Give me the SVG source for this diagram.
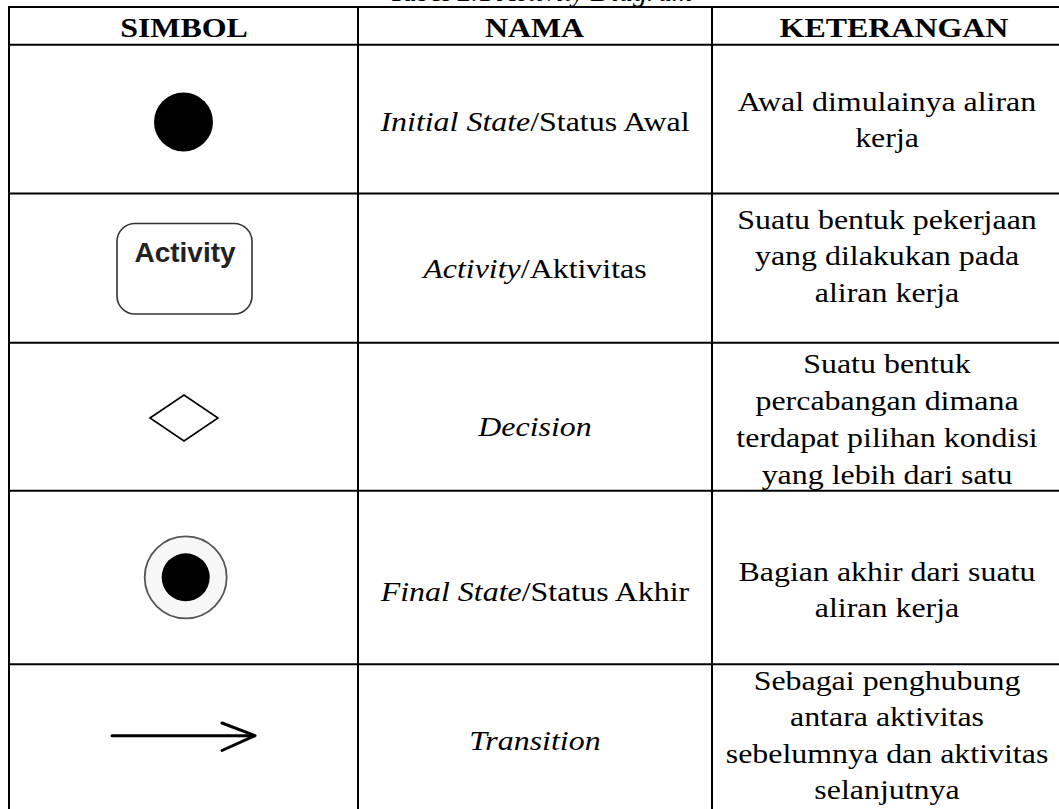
<svg xmlns="http://www.w3.org/2000/svg" width="1059" height="809" viewBox="0 0 1059 809">
<style>
.grid{stroke:#000;stroke-width:2;fill:none}
.t{font-family:"Liberation Serif","Times New Roman",serif;font-size:28px;fill:#000;text-anchor:middle}
.h{font-weight:bold}
.i{font-style:italic}
.sym{stroke:#000;fill:none}
</style>
<rect width="1059" height="809" fill="#fff"/>

<g id="title">
<text class="t" x="540" y="1">Tabel 2.1 <tspan class="i">Activity Diagram</tspan></text>
</g>

<g id="table-grid" class="grid">
<line x1="8" y1="7" x2="1059" y2="7"/>
<line x1="9" y1="7" x2="9" y2="809"/>
<line x1="358" y1="7" x2="358" y2="809"/>
<line x1="712" y1="7" x2="712" y2="809"/>
<line x1="8" y1="44.8" x2="1059" y2="44.8"/>
<line x1="8" y1="193.6" x2="1059" y2="193.6"/>
<line x1="8" y1="342.8" x2="1059" y2="342.8"/>
<line x1="8" y1="490.8" x2="1059" y2="490.8"/>
<line x1="8" y1="664.3" x2="1059" y2="664.3"/>
</g>

<g id="header" transform="scale(1.14 1)">
<text class="t h" x="161.4" y="36.7">SIMBOL</text>
<text class="t h" x="468.9" y="36.7">NAMA</text>
<text class="t h" x="784.2" y="36.7">KETERANGAN</text>
</g>

<g id="row-initial">
<circle cx="183.5" cy="122" r="29.5" fill="#000"/>
<g transform="scale(1.14 1)">
<text class="t" x="469.3" y="130.7"><tspan class="i">Initial State</tspan>/Status Awal</text>
<text class="t" x="778.1" y="111">Awal dimulainya aliran</text>
<text class="t" x="778.1" y="147">kerja</text>
</g>
</g>

<g id="row-activity">
<rect x="117" y="223.5" width="135" height="90.5" rx="18" ry="18" fill="#fff" stroke="#333" stroke-width="1.6"/>
<text x="185" y="261.5" font-family="Liberation Sans, Arial, sans-serif" font-weight="bold" font-size="28" fill="#222" text-anchor="middle">Activity</text>
<g transform="scale(1.14 1)">
<text class="t" x="469.3" y="278"><tspan class="i">Activity</tspan>/Aktivitas</text>
<text class="t" x="778.1" y="229">Suatu bentuk pekerjaan</text>
<text class="t" x="778.1" y="265.5">yang dilakukan pada</text>
<text class="t" x="778.1" y="302">aliran kerja</text>
</g>
</g>

<g id="row-decision">
<polygon class="sym" stroke-width="1.6" points="150,418 184,395 218,418 184,441"/>
<g transform="scale(1.14 1)">
<text class="t i" x="469.3" y="436">Decision</text>
<text class="t" x="778.1" y="373">Suatu bentuk</text>
<text class="t" x="778.1" y="410">percabangan dimana</text>
<text class="t" x="778.1" y="447">terdapat pilihan kondisi</text>
<text class="t" x="778.1" y="484">yang lebih dari satu</text>
</g>
</g>

<g id="row-final">
<circle cx="185.7" cy="577.3" r="41" fill="#f7f7f7" stroke="#555" stroke-width="1.8"/>
<circle cx="185.7" cy="577.3" r="24" fill="#000"/>
<g transform="scale(1.14 1)">
<text class="t" x="469.3" y="601"><tspan class="i">Final State</tspan>/Status Akhir</text>
<text class="t" x="778.1" y="581">Bagian akhir dari suatu</text>
<text class="t" x="778.1" y="617">aliran kerja</text>
</g>
</g>

<g id="row-transition">
<g class="sym" stroke-width="3" stroke-linecap="round" stroke-linejoin="round">
<line x1="112" y1="735.7" x2="254" y2="735.7"/>
<polyline points="222,723 255,735.7 222,750.5"/>
</g>
<g transform="scale(1.14 1)">
<text class="t i" x="469.3" y="750">Transition</text>
<text class="t" x="778.1" y="690">Sebagai penghubung</text>
<text class="t" x="778.1" y="726.5">antara aktivitas</text>
<text class="t" x="778.1" y="763">sebelumnya dan aktivitas</text>
<text class="t" x="778.1" y="799.5">selanjutnya</text>
</g>
</g>

<g id="connectors"></g>
</svg>
